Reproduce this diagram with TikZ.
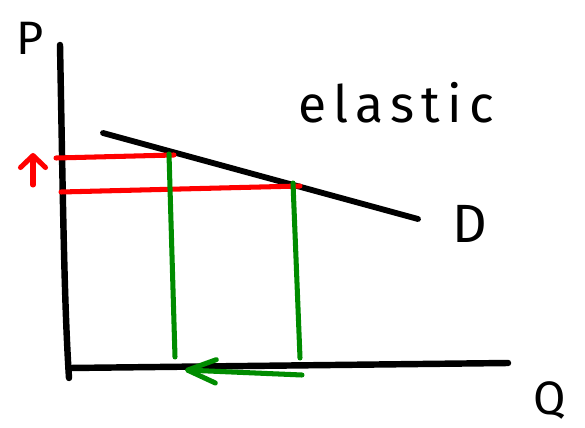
\documentclass[tikz,border=0pt]{standalone}
\usepackage{fontspec}
\setmainfont{Fira Sans}
\usetikzlibrary{arrows.meta}

\begin{document}
\begin{tikzpicture}[
    x=0.03cm, y=-0.03cm,
    axis/.style={line width=5.5pt, line cap=round, black},
    demand/.style={line width=5pt, line cap=round, black},
    price/.style={line width=4.3pt, line cap=round, red},
    qty/.style={line width=4.3pt, line cap=round, green!55!black},
    lbl/.style={inner sep=0pt, font=\fontsize{40}{44}\selectfont}
]
\useasboundingbox (0,0) rectangle (585,428);

% axes
\coordinate (ytop) at (60,45);
\coordinate (ybot) at (69,378);
\coordinate (xleft) at (70,368);
\coordinate (xright) at (508,363);
\draw[axis] (ytop) .. controls (63,200) and (64,300) .. (ybot);
\draw[axis] (xleft) -- (xright);
\node[lbl] (plbl) at (30,38) {P};
\node[lbl] (qlbl) at (550,400) {Q};

% demand curve
\coordinate (d1) at (103,133);
\coordinate (d2) at (418,219);
\draw[demand] (d1) -- (d2);
\node[lbl, font=\fontsize{46}{50}\selectfont] (dlbl) at (470,224) {D};
\node[lbl, font=\fontsize{44}{48}\selectfont\addfontfeature{LetterSpace=14}] (elas) at (396,103) {elastic};

% prices
\coordinate (p1a) at (56,158);
\coordinate (p1b) at (174,155);
\coordinate (p2a) at (61,192);
\coordinate (p2b) at (300,186);
\draw[price] (p1a) -- (p1b);
\draw[price] (p2a) -- (p2b);
\coordinate (up1) at (33,185);
\coordinate (up2) at (33,153);
\draw[price, -{Straight Barb[length=3.6mm, width=7.5mm, round]}] (up1) -- (up2);

% quantities
\coordinate (q1a) at (169,154);
\coordinate (q1b) at (175,357);
\coordinate (q2a) at (293,183);
\coordinate (q2b) at (300,358);
\draw[qty] (q1a) -- (q1b);
\draw[qty] (q2a) -- (q2b);
\coordinate (lf1) at (302,375);
\coordinate (lf2) at (185,370);
\draw[qty, -{Straight Barb[length=8.5mm, width=7mm, round]}] (lf1) -- (lf2);
\end{tikzpicture}
\end{document}
